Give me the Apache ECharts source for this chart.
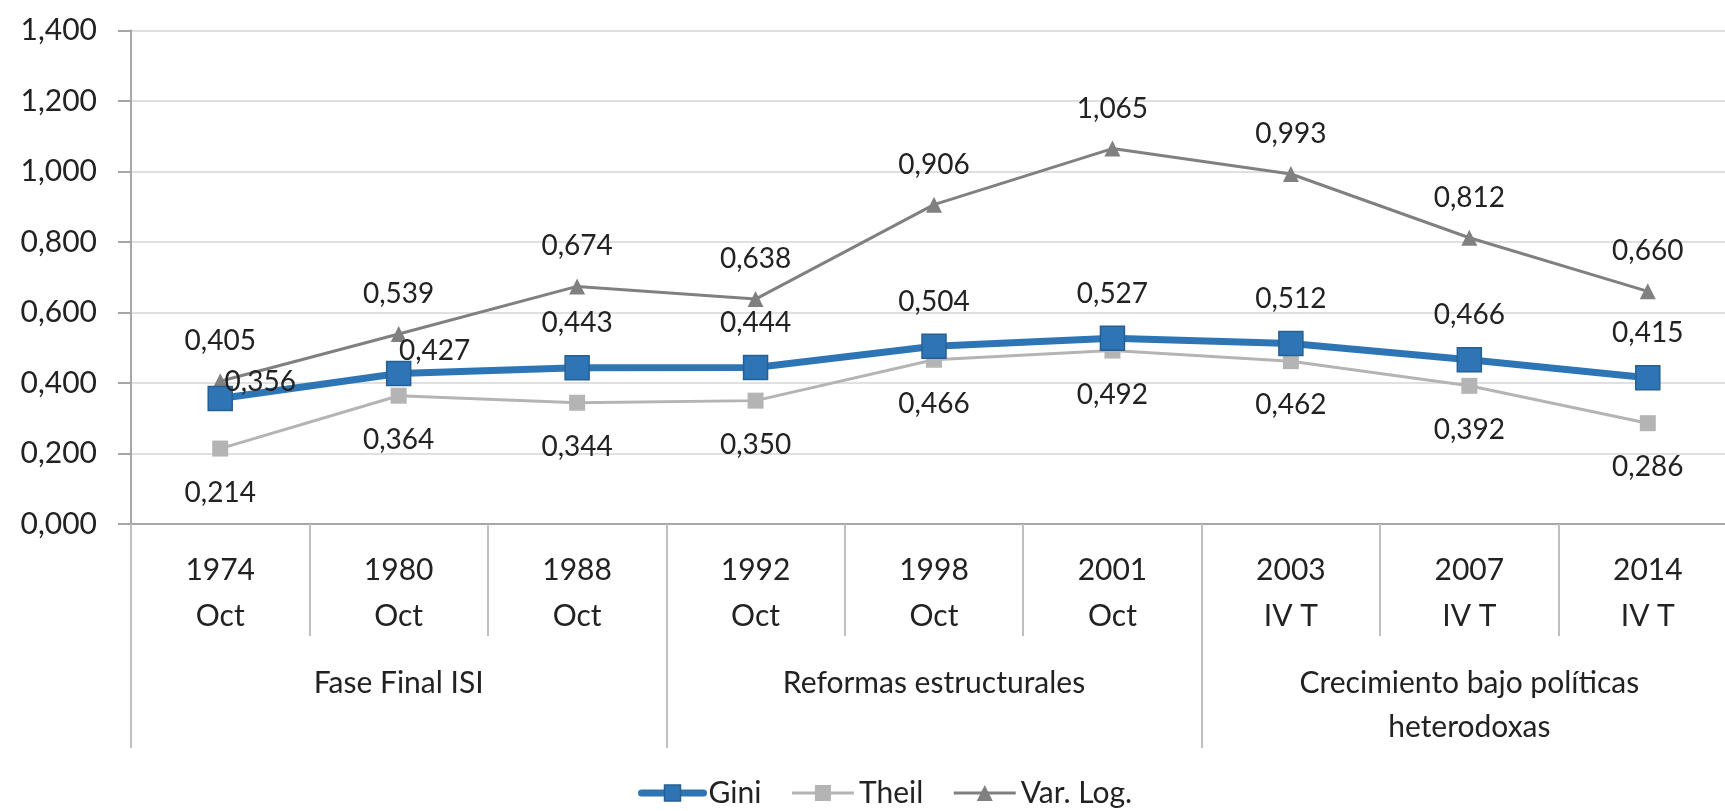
<!DOCTYPE html>
<html>
<head>
<meta charset="utf-8">
<script src="https://cdn.jsdelivr.net/npm/echarts@6/dist/echarts.min.js"></script>
<style>
    html, body { margin: 0; padding: 0; background: #fff; }
    #chart { width: 1725px; height: 811px; }
</style>
</head>
<body>
<div id="chart"></div>
<script>
    var years = ['1974', '1980', '1988', '1992', '1998', '2001', '2003', '2007', '2014'];
    var periods = ['Oct', 'Oct', 'Oct', 'Oct', 'Oct', 'Oct', 'IV T', 'IV T', 'IV T'];
    var groups = ['Fase Final ISI', 'Reformas estructurales', 'Crecimiento bajo políticas\nheterodoxas'];

    var gini = [0.356, 0.427, 0.443, 0.444, 0.504, 0.527, 0.512, 0.466, 0.415];
    var theil = [0.214, 0.364, 0.344, 0.350, 0.466, 0.492, 0.462, 0.392, 0.286];
    var varLog = [0.405, 0.539, 0.674, 0.638, 0.906, 1.065, 0.993, 0.812, 0.660];

    var font = 'Lato, "Open Sans", sans-serif';
    var fmt = function (v) { return v.toFixed(3).replace('.', ','); };

    var categories = years.map(function (y, i) { return y + '\n' + periods[i]; });

    // the first two Gini labels sit to the right of the point, like in the source
    var giniLabelFix = { 0: [40, -17], 1: [36, -23] };
    var giniData = gini.map(function (v, i) {
        if (giniLabelFix[i]) {
            return { value: v, label: { position: 'inside', offset: giniLabelFix[i] } };
        }
        return v;
    });

    var labelText = { fontFamily: font, fontSize: 28, color: '#222' };

    var chart = echarts.init(document.getElementById('chart'));
    chart.setOption({
        animation: false,
        grid: { left: 131, top: 30.5, right: -12, bottom: 287, outerBoundsMode: 'none' },
        legend: {
            left: 633,
            top: 773,
            itemWidth: 62,
            itemHeight: 20,
            itemGap: 29,
            textStyle: { fontFamily: font, fontSize: 30, color: '#222' },
            data: [
                { name: 'Gini', lineStyle: { width: 7, cap: 'round' }, itemStyle: { borderWidth: 1.5 } },
                { name: 'Theil', lineStyle: { width: 3 } },
                { name: 'Var. Log.', lineStyle: { width: 3 } }
            ]
        },
        xAxis: [
            {
                type: 'category',
                data: categories,
                position: 'bottom',
                axisLine: { show: true, lineStyle: { color: '#a6a6a6', width: 2 } },
                axisTick: { show: true, interval: 0, length: 112, lineStyle: { color: '#bfbfbf', width: 2 } },
                axisLabel: {
                    interval: 0, margin: 23, lineHeight: 46,
                    fontFamily: font, fontSize: 30, color: '#222'
                }
            },
            {
                type: 'category',
                data: groups,
                position: 'bottom',
                axisLine: { show: false },
                axisTick: { show: true, interval: 0, length: 224, lineStyle: { color: '#bfbfbf', width: 2 } },
                axisLabel: {
                    interval: 0, margin: 137, lineHeight: 44,
                    fontFamily: font, fontSize: 30, color: '#222'
                }
            }
        ],
        yAxis: {
            type: 'value',
            min: 0,
            max: 1.4,
            interval: 0.2,
            axisLine: { show: true, lineStyle: { color: '#a6a6a6', width: 2 } },
            axisTick: { show: true, length: 13, lineStyle: { color: '#a6a6a6', width: 2 } },
            splitLine: { lineStyle: { color: '#e0e0e0', width: 2 } },
            axisLabel: {
                margin: 34,
                fontFamily: font, fontSize: 30, color: '#222',
                formatter: fmt
            }
        },
        series: [
            {
                name: 'Gini',
                type: 'line',
                z: 4,
                data: giniData,
                symbol: 'rect',
                symbolSize: 24,
                lineStyle: { color: '#2e75b6', width: 7 },
                itemStyle: { color: '#2e75b6', borderColor: '#285f92', borderWidth: 1.5 },
                label: Object.assign({ show: true, position: 'top', distance: 18, formatter: function (p) { return fmt(p.value); } }, labelText)
            },
            {
                name: 'Theil',
                type: 'line',
                z: 3,
                data: theil,
                symbol: 'rect',
                symbolSize: 16,
                lineStyle: { color: '#b4b4b4', width: 3 },
                itemStyle: { color: '#b4b4b4' },
                label: Object.assign({ show: true, position: 'bottom', distance: 22, formatter: function (p) { return fmt(p.value); } }, labelText)
            },
            {
                name: 'Var. Log.',
                type: 'line',
                z: 2,
                data: varLog,
                symbol: 'triangle',
                symbolSize: 16,
                lineStyle: { color: '#808080', width: 3 },
                itemStyle: { color: '#808080' },
                label: Object.assign({ show: true, position: 'top', distance: 18, formatter: function (p) { return fmt(p.value); } }, labelText)
            }
        ]
    });
</script>
</body>
</html>
